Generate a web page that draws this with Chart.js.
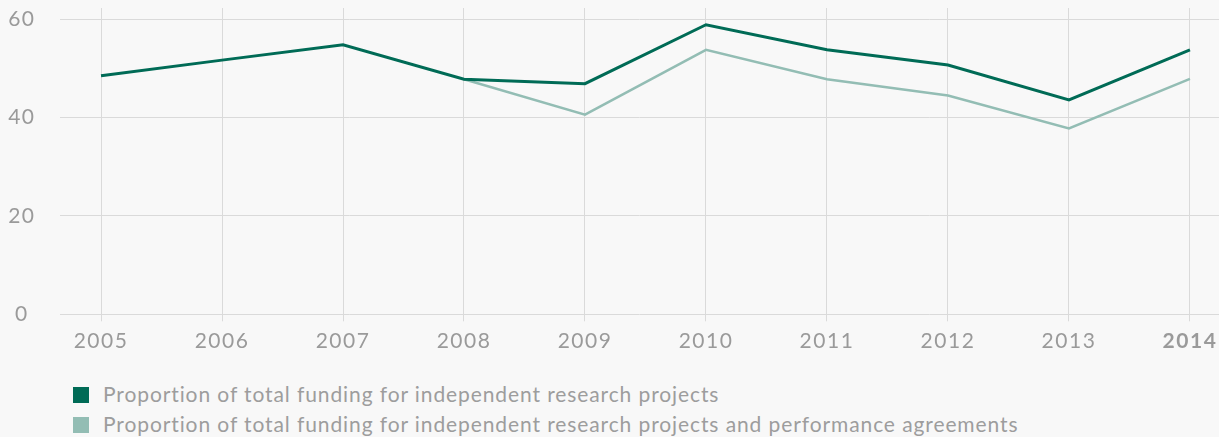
<!DOCTYPE html>
<html><head><meta charset="utf-8">
<script src="https://cdn.jsdelivr.net/npm/chart.js@4"></script>
<style>
html,body{margin:0;padding:0;background:#f8f8f8;}
#wrap{position:relative;width:1219px;height:437px;overflow:hidden;}
#cbox{position:absolute;left:0;top:0;width:1219px;height:360px;}
.row{position:absolute;left:0;width:1219px;height:24px;font-family:Lato,sans-serif;font-size:21px;letter-spacing:0.9px;line-height:24px;color:#9d9d9d;white-space:nowrap;}
.sw{position:absolute;left:73px;top:5px;width:16px;height:16px;}
.tx{position:absolute;left:103px;top:0;}
</style></head><body>
<div id="wrap">
<div id="cbox"><canvas id="c" width="1219" height="360"></canvas></div>
<div id="legend"></div>
</div>
<script>
const years = [2005, 2006, 2007, 2008, 2009, 2010, 2011, 2012, 2013, 2014];
const yearLabels = ['2005', '2006', '2007', '2008', '2009', '2010', '2011', '2012', '2013', '2014'];
const independentProjects = [48.5, 51.7, 54.8, 47.8, 46.9, 58.9, 53.8, 50.7, 43.6, 53.8];
const withPerformanceAgreements = [null, null, null, 47.8, 40.6, 53.8, 47.8, 44.5, 37.8, 47.9];
const yTicks = [0, 20, 40, 60];
const seriesNames = [
  'Proportion of total funding for independent research projects',
  'Proportion of total funding for independent research projects and performance agreements'
];
const seriesColors = ['#006b56', '#93bdb4'];

const toPoints = arr => years.map((y, i) => ({x: y, y: arr[i]}));
const gridColor = '#dadada';
const textColor = '#9a9a9a';

const spacingPlugin = {
  id: 'spacing',
  beforeUpdate: c => { c.ctx.letterSpacing = '1.5px'; },
  beforeLayout: c => { c.ctx.letterSpacing = '1.5px'; },
  beforeDraw: c => { c.ctx.letterSpacing = '1.5px'; }
};

new Chart(document.getElementById('c'), {
  type: 'line',
  plugins: [spacingPlugin],
  data: {
    datasets: [
      {label: seriesNames[0], data: toPoints(independentProjects), borderColor: seriesColors[0], backgroundColor: seriesColors[0], borderWidth: 3, pointRadius: 0, tension: 0, spanGaps: false},
      {label: seriesNames[1], data: toPoints(withPerformanceAgreements), borderColor: seriesColors[1], backgroundColor: seriesColors[1], borderWidth: 2.5, pointRadius: 0, tension: 0, spanGaps: false}
    ]
  },
  options: {
    responsive: false,
    animation: false,
    devicePixelRatio: 1,
    layout: {padding: {top: 8, left: 0, right: 0, bottom: 0}},
    plugins: {legend: {display: false}, tooltip: {enabled: false}},
    scales: {
      x: {
        type: 'linear', min: 2004.661, max: 2014.24,
        afterBuildTicks: s => { s.ticks = years.map(v => ({value: v})); },
        afterFit: s => { s.height = 45.7; s.paddingLeft = 0; s.paddingRight = 0; },
        grid: {color: gridColor, lineWidth: 1, drawTicks: true, tickLength: 7},
        border: {display: false},
        ticks: {
          autoSkip: false, maxRotation: 0, minRotation: 0, padding: 7, color: textColor,
          font: ctx => ({family: 'Lato', size: 21, weight: (ctx.tick && ctx.tick.value === 2014) ? 'bold' : 'normal'}),
          callback: v => yearLabels[years.indexOf(v)]
        }
      },
      y: {
        min: 0, max: 62.3,
        afterBuildTicks: s => { s.ticks = yTicks.map(v => ({value: v})); },
        afterFit: s => { s.width = 60; s.paddingTop = 0; s.paddingBottom = 0; },
        grid: {color: gridColor, lineWidth: 1, drawTicks: false},
        border: {display: false},
        ticks: {crossAlign: 'center', padding: 24.5, color: textColor, font: {family: 'Lato', size: 21}, callback: v => String(v)}
      }
    }
  }
});

const leg = document.getElementById('legend');
seriesNames.forEach((name, i) => {
  const row = document.createElement('div');
  row.className = 'row';
  row.style.top = (382 + i * 30) + 'px';
  const sw = document.createElement('div');
  sw.className = 'sw';
  sw.style.background = seriesColors[i];
  const tx = document.createElement('span');
  tx.className = 'tx';
  tx.textContent = name;
  row.appendChild(sw); row.appendChild(tx);
  leg.appendChild(row);
});
</script>
</body></html>
